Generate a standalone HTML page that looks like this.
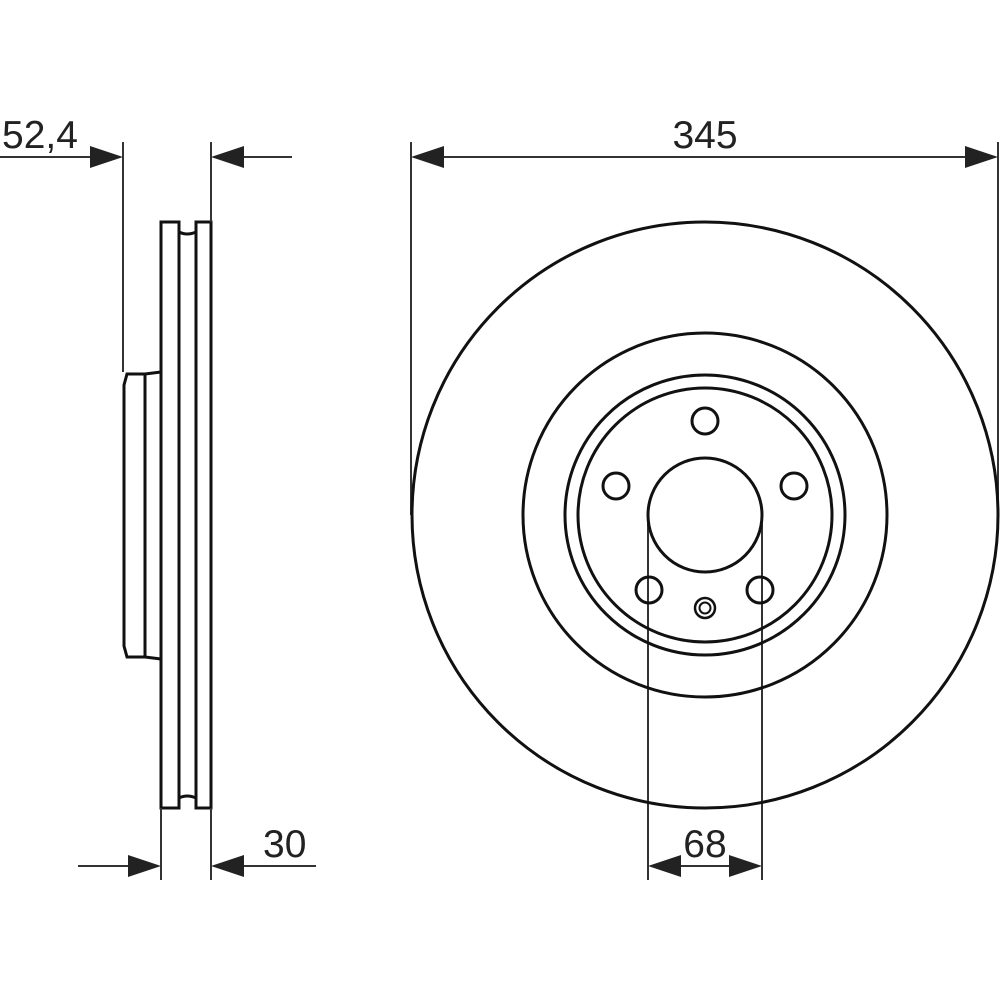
<!DOCTYPE html>
<html><head><meta charset="utf-8"><style>
html,body{margin:0;padding:0;background:#fff;}
svg{display:block;}
text{font-family:"Liberation Sans",Arial,sans-serif;font-size:39px;fill:#222;}
</style></head><body>
<svg width="1000" height="1000" viewBox="0 0 1000 1000" xmlns="http://www.w3.org/2000/svg">
<g stroke="#111" fill="none" stroke-width="3">
  <!-- side view disc -->
  <path d="M161,222 H179 V232 Q187,236 196,232 V222 H211 V808 H196 V798 Q187,794 179,798 V808 H161 Z"/>
  <line x1="179" y1="232" x2="179" y2="798"/>
  <line x1="196" y1="232" x2="196" y2="798"/>
  <!-- hub -->
  <path d="M161,372 L145,374 H127 L124,385 V646 L127,657 H145 L161,659"/>
  <line x1="145" y1="374" x2="145" y2="657"/>
</g>
<g stroke="#333" stroke-width="2" fill="none">
  <line x1="123" y1="142" x2="123" y2="372"/>
  <line x1="211" y1="142" x2="211" y2="222"/>
  <line x1="0" y1="157" x2="95" y2="157"/>
  <line x1="240" y1="157" x2="292" y2="157"/>
  <line x1="161" y1="808" x2="161" y2="880"/>
  <line x1="211" y1="808" x2="211" y2="880"/>
  <line x1="78" y1="866" x2="132" y2="866"/>
  <line x1="240" y1="866" x2="316" y2="866"/>
  <!-- front view ext lines -->
  <line x1="411" y1="142" x2="411" y2="515"/>
  <line x1="998" y1="142" x2="998" y2="515"/>
  <line x1="440" y1="157" x2="968" y2="157"/>
  <line x1="648" y1="520" x2="648" y2="880"/>
  <line x1="762" y1="520" x2="762" y2="880"/>
  <line x1="680" y1="866" x2="730" y2="866"/>
</g>
<g fill="#222">
  <polygon points="123,157 90,146 90,168"/>
  <polygon points="211,157 244,146 244,168"/>
  <polygon points="161,866 128,855 128,877"/>
  <polygon points="211,866 244,855 244,877"/>
  <polygon points="411,157 444,146 444,168"/>
  <polygon points="998,157 965,146 965,168"/>
  <polygon points="648,866 681,855 681,877"/>
  <polygon points="762,866 729,855 729,877"/>
</g>
<g stroke="#111" fill="none" stroke-width="3">
  <circle cx="705" cy="515" r="293"/>
  <circle cx="705" cy="515" r="182"/>
  <circle cx="705" cy="515" r="140"/>
  <circle cx="705" cy="515" r="127"/>
  <circle cx="705" cy="515" r="57"/>
  <circle cx="705" cy="421" r="13"/>
  <circle cx="616" cy="486" r="13"/>
  <circle cx="794" cy="486" r="13"/>
  <circle cx="649" cy="590" r="13"/>
  <circle cx="760" cy="590" r="13"/>
  <circle cx="705" cy="608" r="10" stroke-width="2.5"/>
  <circle cx="705" cy="608" r="5.5" stroke-width="2"/>
</g>
<text x="2" y="148">52,4</text>
<text x="263" y="857">30</text>
<text x="705" y="148" text-anchor="middle">345</text>
<text x="705" y="857" text-anchor="middle">68</text>
</svg>
</body></html>
